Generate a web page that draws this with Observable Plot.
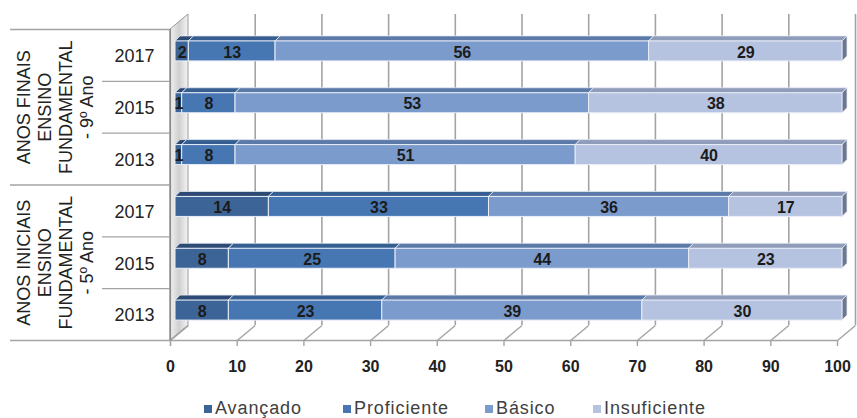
<!DOCTYPE html>
<html><head><meta charset="utf-8">
<script src="https://cdn.jsdelivr.net/npm/d3@7"></script>
<script src="https://cdn.jsdelivr.net/npm/@observablehq/plot@0.6"></script>
<style>
body{margin:0;background:#fff;}
#legend{position:relative;width:857px;height:33px;font-family:"Liberation Sans",Arial,sans-serif;font-size:18px;color:#404040;letter-spacing:0.9px;}
#legend .item{position:absolute;top:12px;line-height:22px;white-space:nowrap;display:flex;align-items:center;}
#legend .sw{display:inline-block;width:8px;height:8px;margin-right:3px;margin-top:2px;}
</style></head><body>
<div id="chart"></div>
<div id="legend"></div>
<script>
// ---- data ----
const groupLabels = ["ANOS FINAIS\nENSINO\nFUNDAMENTAL\n- 9º Ano", "ANOS INICIAIS\nENSINO\nFUNDAMENTAL\n- 5º Ano"];
const years = ["2017", "2015", "2013"];
const levels = ["Avançado", "Proficiente", "Básico", "Insuficiente"];
const avancado     = [2, 1, 1, 14, 8, 8];
const proficiente  = [13, 8, 8, 33, 25, 23];
const basico       = [56, 53, 51, 36, 44, 39];
const insuficiente = [29, 38, 40, 17, 23, 30];
const xTicks = [0, 10, 20, 30, 40, 50, 60, 70, 80, 90, 100];

// ---- styles ----
const frontColors = ["#3d6496", "#4777b3", "#7b9bcc", "#b5c3e0"];
const topColors   = ["#2c4a73", "#365e90", "#5b7aa8", "#8f9cba"];
const sideColor = "#6d788e";
const legendLeft = [204, 343, 485, 593];

const W = 857, H = 385, ML = 170, MR = 20, MT = 29, MB = 45;
const kx = 100 / (W - ML - MR);     // data units per px (x)
const ky = 6 / (H - MT - MB);       // data units per px (y)
const depthX = 18 * kx, depthY = 15 * ky;   // 3D depth of the wall
const barDx = 5, barDy = -4;                // bars sit slightly inside the depth
const halfH = 10 * ky;                      // half bar height
const faceX = 5 * kx, faceY = 5 * ky;       // bar top face depth

const series = [avancado, proficiente, basico, insuficiente];
const rows = [];
groupLabels.forEach((g, gi) => years.forEach((yr, j) => rows.push({i: gi * 3 + j, year: yr, group: gi})));

const segs = [];
rows.forEach(r => {
  let acc = 0;
  series.forEach((s, k) => {
    const v = s[r.i];
    segs.push({i: r.i, k, v, x1: acc, x2: acc + v, key: r.i + "-" + k, fill: frontColors[k], top: topColors[k]});
    acc += v;
  });
});
const topPts = segs.flatMap(s => [
  {key: s.key, fill: s.top, y: s.i - halfH, x1: s.x1, x2: s.x2},
  {key: s.key, fill: s.top, y: s.i - halfH - faceY, x1: s.x1 + faceX, x2: s.x2 + faceX}
]);
const sidePts = rows.flatMap(r => [
  {key: r.i, x: 100, y1: r.i + halfH, y2: r.i - halfH},
  {key: r.i, x: 100 + faceX, y1: r.i + halfH - faceY, y2: r.i - halfH - faceY}
]);
const wall = [
  {x: 0, y1: 5.5, y2: -0.5},
  {x: depthX, y1: 5.5 - depthY, y2: -0.5 - depthY}
];
const sepLines = [
  {y: -0.5, x1: -160 * kx},
  {y: 2.5, x1: -160 * kx},
  {y: 0.5, x1: -68 * kx}, {y: 1.5, x1: -68 * kx},
  {y: 3.5, x1: -68 * kx}, {y: 4.5, x1: -68 * kx}
];
const grp = groupLabels.map((t, gi) => ({t, y: gi * 3 + 1}));

const font = "Liberation Sans, Arial, sans-serif";
const gridColor = "#a3a3a3";

const chart = Plot.plot({
  width: W, height: H,
  marginLeft: ML, marginRight: MR, marginTop: MT, marginBottom: MB,
  x: {domain: [0, 100], axis: null},
  y: {domain: [5.5, -0.5], axis: null},
  color: {type: "identity"},
  style: {background: "#fff", overflow: "visible"},
  marks: [
    // left side wall
    Plot.areaY(wall, {x: "x", y1: "y1", y2: "y2", fill: "url(#wallGrad)", stroke: "#9a9a9a", strokeWidth: 1}),
    // back-wall gridlines
    Plot.ruleX(xTicks.filter(t => t > 0), {x: t => t + depthX, y1: -0.5 - depthY, y2: 5.5 - depthY, stroke: gridColor, strokeWidth: 1.6}),
    // floor diagonals
    Plot.link(xTicks, {x1: t => t, y1: 5.5, x2: t => t + depthX, y2: 5.5 - depthY, stroke: gridColor, strokeWidth: 1.4}),
    // category separators and front axis
    Plot.ruleY(sepLines, {y: "y", x1: "x1", x2: 0, stroke: gridColor, strokeWidth: 1.4}),
    Plot.ruleY([5.5], {x1: -160 * kx, x2: 100, stroke: gridColor, strokeWidth: 1.6}),
    Plot.ruleX([0], {y1: -0.5, y2: 5.5 + 6 * ky, stroke: "#8a8a8a", strokeWidth: 1.2}),
    Plot.ruleX(xTicks, {x: d => d, y1: 5.5, y2: 5.5 + 6 * ky, stroke: gridColor, strokeWidth: 1.4}),
    // bars: top faces, side face, front faces
    Plot.areaX(topPts, {y: "y", x1: "x1", x2: "x2", z: "key", fill: "fill", stroke: "#e6ebf4", strokeWidth: 0.8, dx: barDx, dy: barDy}),
    Plot.areaY(sidePts, {x: "x", y1: "y1", y2: "y2", z: "key", fill: sideColor, stroke: "#e6ebf4", strokeWidth: 0.8, dx: barDx, dy: barDy}),
    Plot.rect(segs, {x1: "x1", x2: "x2", y1: d => d.i - halfH, y2: d => d.i + halfH, fill: "fill", stroke: "#e9eef7", strokeWidth: 1, dx: barDx, dy: barDy}),
    // value labels
    Plot.text(segs, {x: d => (d.x1 + d.x2) / 2, y: "i", text: d => String(d.v), dx: barDx, dy: barDy + 1,
      fontFamily: font, fontWeight: "bold", fontSize: 16, fill: "#1b1b1b"}),
    // year labels
    Plot.text(rows, {x: 0, y: "i", text: "year", dx: -36, dy: 1, fontFamily: font, fontSize: 18, fill: "#222"}),
    // group labels
    Plot.text(grp, {x: 0, y: "y", text: "t", dx: -116, rotate: -90, lineHeight: 1.17, fontFamily: font, fontSize: 18, fill: "#222"}),
    // x tick labels
    Plot.text(xTicks, {x: d => d, y: 5.5, text: d => String(d), dy: 26, fontFamily: font, fontWeight: "bold", fontSize: 16, fill: "#222"})
  ]
});

const svg = d3.select(chart);
const defs = svg.insert("defs", ":first-child");
const g = defs.append("linearGradient").attr("id", "wallGrad").attr("x1", "0").attr("x2", "1").attr("y1", "0").attr("y2", "0");
g.append("stop").attr("offset", "0").attr("stop-color", "#f2f2f2");
g.append("stop").attr("offset", "0.5").attr("stop-color", "#cfcfcf");
g.append("stop").attr("offset", "1").attr("stop-color", "#f4f4f4");
document.getElementById("chart").appendChild(chart);

const legend = d3.select("#legend");
levels.forEach((l, k) => {
  const it = legend.append("div").attr("class", "item").style("left", legendLeft[k] + "px");
  it.append("span").attr("class", "sw").style("background", frontColors[k]);
  it.append("span").text(l);
});
</script>
</body></html>
